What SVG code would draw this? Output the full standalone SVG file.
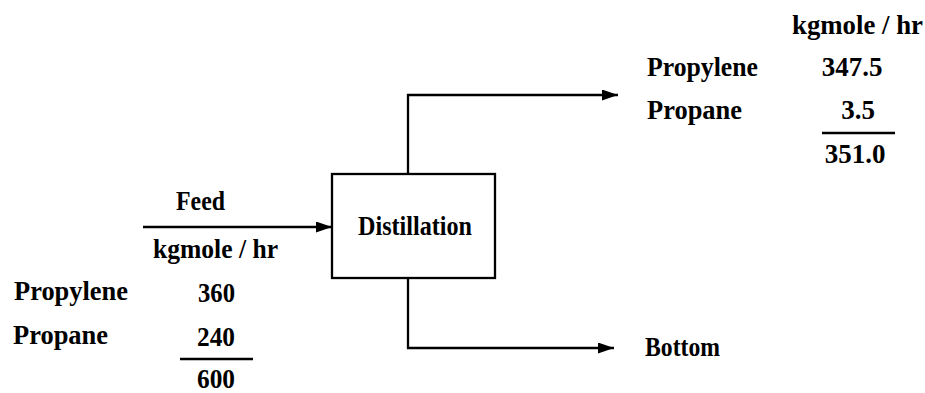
<svg xmlns="http://www.w3.org/2000/svg" width="925" height="393" viewBox="0 0 925 393">
  <style>
    .lbl { font-family: "Liberation Serif", "Times New Roman", serif; font-weight: bold; font-size: 27px; fill: #000; }
    .mid { text-anchor: middle; }
    .line { stroke: #000; stroke-width: 2.3; fill: none; }
    .box { stroke: #000; stroke-width: 2.3; fill: #fff; }
  </style>
  <defs>
    <marker id="arrow" viewBox="0 0 16 11" refX="16" refY="5.5" markerWidth="16" markerHeight="11" markerUnits="userSpaceOnUse" orient="auto">
      <path d="M0,0 L16,5.5 L0,11 Z" fill="#000"/>
    </marker>
  </defs>

  <!-- connectors -->
  <g id="connectors">
    <path class="line" d="M143,227 H332" marker-end="url(#arrow)"/>
    <path class="line" d="M408,174 V95 H618" marker-end="url(#arrow)"/>
    <path class="line" d="M408,278 V348 H614" marker-end="url(#arrow)"/>
  </g>

  <!-- distillation column -->
  <g id="distillation">
    <rect class="box" x="332" y="174" width="163" height="104"/>
    <text class="lbl" x="358" y="235" textLength="114" lengthAdjust="spacingAndGlyphs">Distillation</text>
  </g>

  <!-- feed stream table -->
  <g id="feed">
    <text class="lbl" x="176" y="210" textLength="49" lengthAdjust="spacingAndGlyphs">Feed</text>
    <text class="lbl" x="153" y="258" textLength="125" lengthAdjust="spacingAndGlyphs">kgmole / hr</text>
    <text class="lbl" x="14" y="300" textLength="114" lengthAdjust="spacingAndGlyphs">Propylene</text>
    <text class="lbl" x="198" y="302" textLength="37" lengthAdjust="spacingAndGlyphs">360</text>
    <text class="lbl" x="13" y="344" textLength="95" lengthAdjust="spacingAndGlyphs">Propane</text>
    <text class="lbl" x="197" y="346" textLength="38" lengthAdjust="spacingAndGlyphs">240</text>
    <line class="line" x1="180" y1="359" x2="253" y2="359"/>
    <text class="lbl" x="197" y="388" textLength="38" lengthAdjust="spacingAndGlyphs">600</text>
  </g>

  <!-- overhead product table -->
  <g id="overhead">
    <text class="lbl" x="792" y="34" textLength="131" lengthAdjust="spacingAndGlyphs">kgmole / hr</text>
    <text class="lbl" x="647" y="76" textLength="111" lengthAdjust="spacingAndGlyphs">Propylene</text>
    <text class="lbl mid" x="852" y="76">347.5</text>
    <text class="lbl" x="647" y="119" textLength="95" lengthAdjust="spacingAndGlyphs">Propane</text>
    <text class="lbl mid" x="858" y="119">3.5</text>
    <line class="line" x1="822" y1="133" x2="895" y2="133"/>
    <text class="lbl mid" x="855" y="163">351.0</text>
  </g>

  <!-- bottoms product -->
  <g id="bottom">
    <text class="lbl" x="645" y="356" textLength="75" lengthAdjust="spacingAndGlyphs">Bottom</text>
  </g>
</svg>
